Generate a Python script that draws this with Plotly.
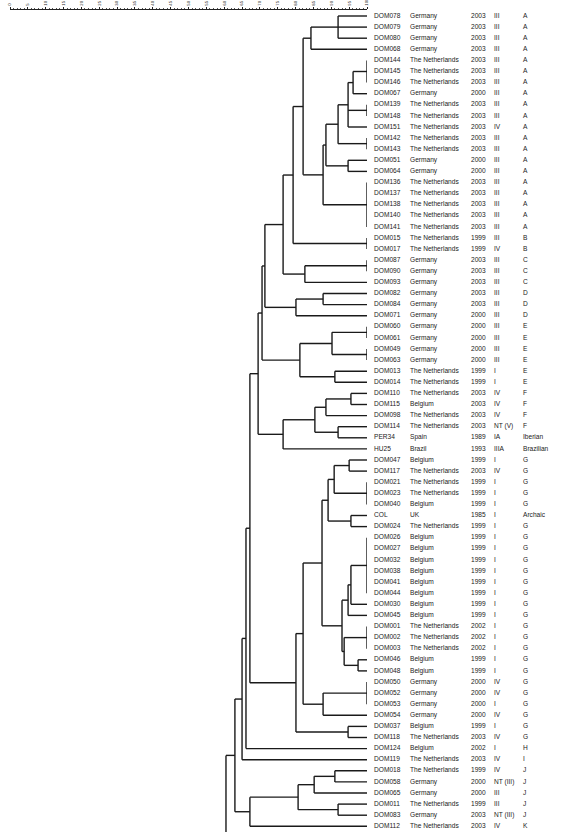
import plotly.graph_objects as go

# ---------------- data ----------------
names = ["DOM078","DOM079","DOM080","DOM068","DOM144","DOM145","DOM146","DOM067","DOM139","DOM148",
         "DOM151","DOM142","DOM143","DOM051","DOM064","DOM136","DOM137","DOM138","DOM140","DOM141",
         "DOM015","DOM017","DOM087","DOM090","DOM093","DOM082","DOM084","DOM071","DOM060","DOM061",
         "DOM049","DOM063","DOM013","DOM014","DOM110","DOM115","DOM098","DOM114","PER34","HU25",
         "DOM047","DOM117","DOM021","DOM023","DOM040","COL","DOM024","DOM026","DOM027","DOM032",
         "DOM038","DOM041","DOM044","DOM030","DOM045","DOM001","DOM002","DOM003","DOM046","DOM048",
         "DOM050","DOM052","DOM053","DOM054","DOM037","DOM118","DOM124","DOM119","DOM018","DOM058",
         "DOM065","DOM011","DOM083","DOM112"]
NL = "The Netherlands"
countries = ["Germany","Germany","Germany","Germany",NL,NL,NL,"Germany",NL,NL,
             NL,NL,NL,"Germany","Germany",NL,NL,NL,NL,NL,
             NL,NL,"Germany","Germany","Germany","Germany","Germany","Germany","Germany","Germany",
             "Germany","Germany",NL,NL,NL,"Belgium",NL,NL,"Spain","Brazil",
             "Belgium",NL,NL,NL,"Belgium","UK",NL,"Belgium","Belgium","Belgium",
             "Belgium","Belgium","Belgium","Belgium","Belgium",NL,NL,NL,"Belgium","Belgium",
             "Germany","Germany","Germany","Germany","Belgium",NL,"Belgium",NL,NL,"Germany",
             "Germany",NL,"Germany",NL]
years = ["2003","2003","2003","2003","2003","2003","2003","2000","2003","2003",
         "2003","2003","2003","2000","2000","2003","2003","2003","2003","2003",
         "1999","1999","2003","2003","2003","2003","2003","2000","2000","2000",
         "2000","2000","1999","1999","2003","2003","2003","2003","1989","1993",
         "1999","2003","1999","1999","1999","1985","1999","1999","1999","1999",
         "1999","1999","1999","1999","1999","2002","2002","2002","1999","1999",
         "2000","2000","2000","2000","1999","2003","2002","2003","1999","2000",
         "2000","1999","2003","2003"]
types = ["III","III","III","III","III","III","III","III","III","III",
         "IV","III","III","III","III","III","III","III","III","III",
         "III","IV","III","III","III","III","III","III","III","III",
         "III","III","I","I","IV","IV","IV","NT (V)","IA","IIIA",
         "I","IV","I","I","I","I","I","I","I","I",
         "I","I","I","I","I","I","I","I","I","I",
         "IV","IV","I","IV","I","IV","I","IV","IV","NT (III)",
         "III","III","NT (III)","IV"]
groups = ["A"]*20 + ["B","B","C","C","C","D","D","D","E","E","E","E","E","E",
          "F","F","F","F","Iberian","Brazilian",
          "G","G","G","G","G","Archaic"] + ["G"]*20 + ["H","I","J","J","J","J","J","K"]

# merges: node name -> (children, similarity %)
merge_names = ["a","b","c","d","e","f","g","h","i","j","k","l","m","n","o",
               "p","q","r","s","t","u","v","w","x",
               "y1","y2","y3","y4","y5",
               "g1","g2","g3","g4","g5","g6","g7","g8","g9","g10","g11","g12","g13","g14","g15","g16","g17","g18",
               "j1","j2","j3","j4","j5",
               "T1","T2","T3","T4","A2","A3","A4","A5"]
merge_children = [[0,1,2],["a",3],[4,5,6],["c",7],[8,9],["d","e",10],[11,12],["f","g"],[13,14],["h","i"],
                  [15,16,17,18,19],["j","k"],["b","l"],[20,21],["m","n"],
                  [22,23],["p",24],[25,26],["r",27],[28,29],[30,31],["t","u"],[32,33],["v","w"],
                  [34,35],["y1",36],[37,38],["y2","y3"],["y4",39],
                  [40,41],[42,43,44],["g1","g2"],[45,46],["g3","g4"],[47,48,49,50,51,52],["g6",53],["g7",54],
                  [55,56,57],[58,59],["g9","g10"],["g8","g11"],["g5","g12"],[60,61,62],["g14",63],["g13","g15"],
                  [64,65],["g16","g17"],
                  [68,69],["j1",70],[71,72],["j2","j3"],["j4",73],
                  ["o","q"],["T1","s"],["T2","x"],["T3","y5"],["T4","g18"],["A2",66],["A3",67],["A4","j5"]]
merge_sim = [91.9,84.3,100,96.1,100,94.7,100,91.9,94.7,88.5,
             100,87.7,82.1,100,79.3,
             100,82.6,87.7,80.1,100,100,90.2,91.0,81.2,
             95.5,88.5,91.9,85.4,76.5,
             95.0,100,90.8,95.5,89.1,100,95.5,94.7,100,97.5,93.6,93.0,87.4,100,87.7,82.1,94.7,80.1,
             91.0,85.2,91.9,80.7,67.2,
             76.5,71.4,70.6,69.5,67.2,66.1,65.0,63.0]
root_sim = 60.5
scale_ticks = list(range(0, 101, 5))

# ---------------- geometry via library axes ----------------
pos = {}
for i in range(len(names)):
    pos[i] = (100.0, float(i))
xs, ys = [], []
for nm, ch, s in zip(merge_names, merge_children, merge_sim):
    cy = [pos[c][1] for c in ch]
    for c in ch:
        cx, yy = pos[c]
        xs += [cx, s, None]
        ys += [yy, yy, None]
    xs += [s, s, None]
    ys += [min(cy), max(cy), None]
    pos[nm] = (s, (min(cy) + max(cy)) / 2)
top = merge_names[-1]
xs += [pos[top][0], root_sim, None, root_sim, root_sim, None]
ys += [pos[top][1], pos[top][1], None, pos[top][1], len(names) + 10, None]

fig = go.Figure()
fig.add_trace(go.Scatter(x=xs, y=ys, mode="lines", line=dict(color="#1a1a1a", width=1.4),
                         hoverinfo="skip", showlegend=False, xaxis="x", yaxis="y"))

rows = list(range(len(names)))
font = dict(family="Liberation Sans, Arial, sans-serif", size=6.6, color="#222")
cols = [(names, 374), (countries, 410), (years, 471), (types, 494), (groups, 523)]
for txt, px in cols:
    fig.add_trace(go.Scatter(x=[px]*len(txt), y=rows, text=txt, mode="text",
                             textposition="middle right", textfont=font, cliponaxis=False,
                             xaxis="x2", yaxis="y2", hoverinfo="skip", showlegend=False))

W, H = 562, 832
ytop_px = 10
row0_px, row_step = 16.0, 11.1
y_hi = (H - row0_px) / row_step
y_lo = (ytop_px - row0_px) / row_step
ydom = [0, (H - ytop_px) / H]

fig.update_layout(
    width=W, height=H, margin=dict(l=0, r=0, t=0, b=0, autoexpand=False),
    paper_bgcolor="white", plot_bgcolor="rgba(0,0,0,0)",
    xaxis=dict(domain=[10 / W, 367 / W], range=[0, 100], side="top", automargin=False,
               showgrid=False, zeroline=False, showline=True, linecolor="#222", linewidth=1,
               ticks="outside", ticklen=2.5, tickcolor="#222", tickwidth=1,
               tickvals=scale_ticks, ticktext=[str(v) for v in scale_ticks],
               tickangle=-90, tickfont=dict(family="Liberation Sans, Arial", size=4.2, color="#222"),
               minor=dict(ticks="outside", ticklen=1.5, dtick=1, tickcolor="#555"),
               fixedrange=True, anchor="y"),
    yaxis=dict(domain=ydom, range=[y_hi, y_lo], visible=False, fixedrange=True, anchor="x", automargin=False),
    xaxis2=dict(domain=[0, 1], range=[0, W], visible=False, anchor="y2", fixedrange=True, automargin=False),
    yaxis2=dict(domain=ydom, range=[y_hi, y_lo], visible=False, anchor="x2", fixedrange=True, automargin=False),
)

fig.write_html("out.html", config={"displayModeBar": False},
               post_script="document.body.style.margin='0';document.body.style.overflow='hidden';")
